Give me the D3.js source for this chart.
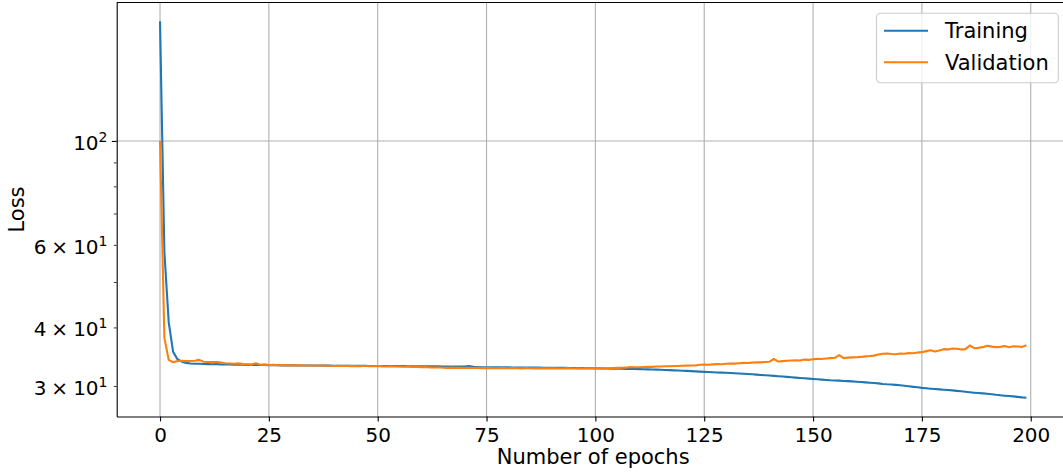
<!DOCTYPE html>
<html><head><meta charset="utf-8">
<script src="https://cdn.jsdelivr.net/npm/d3@7"></script>
<style>body{margin:0;background:#fff;} svg{display:block;font-family:"DejaVu Sans",sans-serif;}</style>
</head><body><svg id="c" width="1063" height="474"></svg>
<script>
const training = [
180, 58, 41, 35.5, 34.2, 33.8, 33.6, 33.5, 33.45, 33.45,
33.42, 33.4, 33.38, 33.4, 33.35, 33.34, 33.33, 33.32, 33.3, 33.3,
33.28, 33.27, 33.26, 33.25, 33.25, 33.22, 33.22, 33.21, 33.2, 33.2,
33.19, 33.19, 33.18, 33.18, 33.17, 33.17, 33.16, 33.16, 33.15, 33.15,
33.14, 33.14, 33.13, 33.13, 33.12, 33.12, 33.11, 33.11, 33.1, 33.1,
33.1, 33.09, 33.09, 33.08, 33.08, 33.07, 33.07, 33.06, 33.06, 33.05,
33.05, 33.04, 33.04, 33.03, 33.03, 33.02, 33.02, 33.01, 33.0, 33.0,
33.02, 33.08, 32.95, 32.92, 32.9, 32.88, 32.88, 32.87, 32.87, 32.86,
32.86, 32.85, 32.85, 32.84, 32.84, 32.83, 32.83, 32.82, 32.81, 32.8,
32.8, 32.79, 32.78, 32.78, 32.77, 32.76, 32.75, 32.74, 32.73, 32.72,
32.71, 32.7, 32.69, 32.68, 32.66, 32.65, 32.64, 32.62, 32.61, 32.6,
32.58, 32.57, 32.55, 32.53, 32.51, 32.48, 32.45, 32.42, 32.39, 32.36,
32.33, 32.3, 32.27, 32.23, 32.19, 32.15, 32.12, 32.09, 32.06, 32.03,
32.0, 31.97, 31.93, 31.89, 31.85, 31.81, 31.77, 31.72, 31.67, 31.62,
31.57, 31.52, 31.47, 31.42, 31.37, 31.32, 31.26, 31.2, 31.15, 31.1,
31.05, 31.0, 30.95, 30.9, 30.85, 30.82, 30.79, 30.75, 30.72, 30.68,
30.63, 30.58, 30.53, 30.48, 30.44, 30.38, 30.3, 30.25, 30.22, 30.16,
30.1, 30.02, 29.95, 29.87, 29.8, 29.72, 29.66, 29.6, 29.55, 29.5,
29.45, 29.4, 29.35, 29.28, 29.22, 29.15, 29.08, 29.02, 28.97, 28.92,
28.87, 28.8, 28.72, 28.66, 28.6, 28.55, 28.5, 28.43, 28.36, 28.32
];
const validation = [
100, 38, 34.1, 33.7, 33.9, 33.95, 33.9, 33.92, 33.95, 34.1,
33.8, 33.75, 33.72, 33.75, 33.65, 33.55, 33.5, 33.45, 33.52, 33.4,
33.36, 33.32, 33.55, 33.3, 33.35, 33.25, 33.27, 33.22, 33.24, 33.2,
33.22, 33.19, 33.2, 33.16, 33.18, 33.14, 33.15, 33.13, 33.16, 33.12,
33.1, 33.14, 33.08, 33.11, 33.07, 33.1, 33.06, 33.12, 33.05, 33.04,
33.08, 33.03, 33.02, 33.06, 33.0, 33.01, 32.97, 32.99, 32.95, 32.98,
32.9, 32.93, 32.86, 32.84, 32.88, 32.8, 32.79, 32.82, 32.78, 32.8,
32.77, 32.79, 32.76, 32.78, 32.74, 32.77, 32.75, 32.73, 32.76, 32.74,
32.72, 32.75, 32.73, 32.71, 32.74, 32.72, 32.7, 32.73, 32.71, 32.72,
32.7, 32.72, 32.69, 32.71, 32.7, 32.68, 32.7, 32.69, 32.71, 32.68,
32.7, 32.69, 32.72, 32.71, 32.76, 32.78, 32.8, 32.82, 32.92, 32.88,
32.9, 32.94, 32.96, 32.95, 33.0, 33.02, 33.06, 33.04, 33.1, 33.08,
33.12, 33.15, 33.18, 33.16, 33.3, 33.32, 33.3, 33.35, 33.4, 33.38,
33.45, 33.5, 33.48, 33.55, 33.6, 33.58, 33.65, 33.7, 33.68, 33.75,
33.8, 34.25, 33.82, 33.9, 33.95, 34.0, 34.05, 34.0, 34.15, 34.1,
34.2, 34.28, 34.25, 34.32, 34.4, 34.45, 34.9, 34.4, 34.48, 34.52,
34.55, 34.6, 34.7, 34.75, 34.82, 35.0, 35.15, 35.2, 35.1, 35.05,
35.2, 35.15, 35.25, 35.22, 35.35, 35.42, 35.6, 35.75, 35.55, 35.7,
35.95, 35.9, 36.05, 36.02, 35.9, 35.95, 36.6, 36.12, 36.18, 36.3,
36.55, 36.4, 36.3, 36.35, 36.5, 36.3, 36.45, 36.42, 36.35, 36.65
];
const seriesNames = ["Training", "Validation"];
const seriesColors = ["#1f77b4", "#ff7f0e"];
const xTicks = [0, 25, 50, 75, 100, 125, 150, 175, 200];
const yMajorTicks = [100];
const yMinorTicks = [30, 40, 50, 60, 70, 80, 90];
const yTickLabels = [
  {value: 100, mant: null, exp: "2"},
  {value: 60, mant: "6", exp: "1"},
  {value: 40, mant: "4", exp: "1"},
  {value: 30, mant: "3", exp: "1"}
];
const xLabel = "Number of epochs";
const yLabel = "Loss";

const svg = d3.select("#c");
const L = 116.7, R = 1069.7, T = 2.5, B = 416.5;
const FS = 20, FL = 21;

const n = training.length;
const xPad = 0.05 * (n - 1);
const x = d3.scaleLinear().domain([0 - xPad, (n - 1) + xPad]).range([L, R]);
const all = training.concat(validation);
const lmin = Math.log10(d3.min(all)), lmax = Math.log10(d3.max(all));
const lp = 0.05 * (lmax - lmin);
const y = d3.scaleLog().domain([Math.pow(10, lmin - lp), Math.pow(10, lmax + lp)]).range([B, T]);

svg.append("defs").append("clipPath").attr("id", "clip")
  .append("rect").attr("x", L).attr("y", T).attr("width", R - L).attr("height", B - T);

// grid
const grid = svg.append("g").attr("stroke", "#b0b0b0").attr("stroke-width", 1.1);
grid.selectAll(".gx").data(xTicks).join("line")
  .attr("x1", d => x(d)).attr("x2", d => x(d)).attr("y1", T).attr("y2", B);
grid.selectAll(".gy").data(yMajorTicks).join("line")
  .attr("x1", L).attr("x2", R).attr("y1", d => y(d)).attr("y2", d => y(d));

// lines
const line = d3.line().x((d, i) => x(i)).y(d => y(d));
const plot = svg.append("g").attr("clip-path", "url(#clip)");
[training, validation].forEach((s, k) => {
  plot.append("path").datum(s).attr("d", line)
    .attr("fill", "none").attr("stroke", seriesColors[k])
    .attr("stroke-width", 2.1).attr("stroke-linejoin", "round");
});

// x axis
const xAxis = d3.axisBottom(x).tickValues(xTicks).tickSize(4.9).tickPadding(5.9).tickSizeOuter(0);
const gx = svg.append("g").attr("transform", `translate(0,${B})`).call(xAxis);
gx.select(".domain").attr("stroke", "#000").attr("stroke-width", 1.1);
gx.selectAll(".tick line").attr("stroke", "#000").attr("stroke-width", 1.1);
gx.selectAll(".tick text").attr("font-size", FS).attr("font-family", "DejaVu Sans").attr("fill", "#000");

// y axis (major + minor ticks)
const yAxisMajor = d3.axisLeft(y).tickValues(yMajorTicks).tickSize(4.9).tickFormat("").tickSizeOuter(0);
const gy = svg.append("g").attr("transform", `translate(${L},0)`).call(yAxisMajor);
gy.select(".domain").attr("stroke", "#000").attr("stroke-width", 1.1);
gy.selectAll(".tick line").attr("stroke", "#000").attr("stroke-width", 1.1);
const yAxisMinor = d3.axisLeft(y).tickValues(yMinorTicks).tickSize(2.8).tickFormat("").tickSizeOuter(0);
const gy2 = svg.append("g").attr("transform", `translate(${L},0)`).call(yAxisMinor);
gy2.select(".domain").remove();
gy2.selectAll(".tick line").attr("stroke", "#000").attr("stroke-width", 0.8);

// y tick labels
yTickLabels.forEach(t => {
  const tx = svg.append("text").attr("x", 107.5).attr("y", y(t.value) + 9)
    .attr("text-anchor", "end").attr("font-size", FS).attr("fill", "#000");
  if (t.mant) {
    tx.append("tspan").text(t.mant);
    tx.append("tspan").attr("dx", 5).text("\u00d7");
    tx.append("tspan").attr("dx", 5).text("10");
  } else {
    tx.append("tspan").text("10");
  }
  tx.append("tspan").attr("dy", -8).attr("font-size", 14).text(t.exp);
});

// top spine
svg.append("line").attr("x1", L).attr("x2", R).attr("y1", T).attr("y2", T)
  .attr("stroke", "#000").attr("stroke-width", 1.1);

// axis labels
svg.append("text").attr("x", (L + R) / 2).attr("y", 464).attr("text-anchor", "middle")
  .attr("font-size", FL).attr("fill", "#000").text(xLabel);
svg.append("text").attr("transform", `translate(24,${(T + B) / 2}) rotate(-90)`)
  .attr("text-anchor", "middle").attr("font-size", FL).attr("fill", "#000").text(yLabel);

// legend
const lg = svg.append("g");
lg.append("rect").attr("x", 876.5).attr("y", 13.3).attr("width", 181.8).attr("height", 69.4)
  .attr("rx", 4).attr("fill", "#fff").attr("fill-opacity", 0.8)
  .attr("stroke", "#cccccc").attr("stroke-width", 1.1);
seriesNames.forEach((name, k) => {
  const ly = 30.8 + k * 31.5;
  lg.append("line").attr("x1", 884).attr("x2", 928).attr("y1", ly).attr("y2", ly)
    .attr("stroke", seriesColors[k]).attr("stroke-width", 2.1);
  lg.append("text").attr("x", 945).attr("y", ly + 7.4).attr("font-size", FL)
    .attr("fill", "#000").text(name);
});
</script></body></html>
